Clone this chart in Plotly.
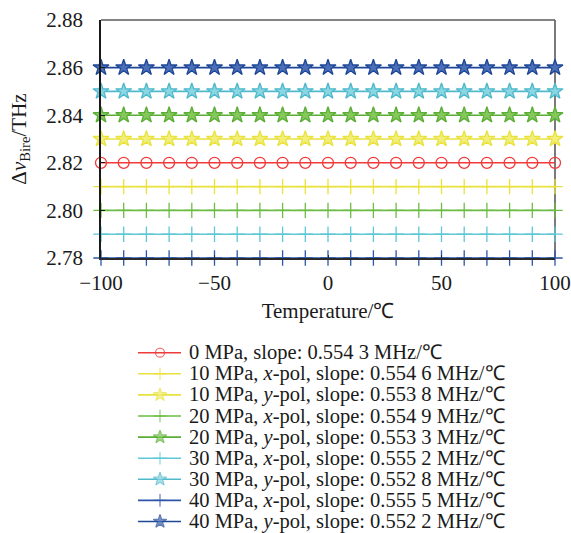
import plotly.graph_objects as go

# Temperature sweep (°C)
temperature = [-100, -90, -80, -70, -60, -50, -40, -30, -20, -10, 0,
               10, 20, 30, 40, 50, 60, 70, 80, 90, 100]

# Birefringence frequency levels (THz) for each stress / polarisation case
series_names = [
    "0 MPa, slope: 0.554 3 MHz/℃",
    "10 MPa, <i>x</i>-pol, slope: 0.554 6 MHz/℃",
    "10 MPa, <i>y</i>-pol, slope: 0.553 8 MHz/℃",
    "20 MPa, <i>x</i>-pol, slope: 0.554 9 MHz/℃",
    "20 MPa, <i>y</i>-pol, slope: 0.553 3 MHz/℃",
    "30 MPa, <i>x</i>-pol, slope: 0.555 2 MHz/℃",
    "30 MPa, <i>y</i>-pol, slope: 0.552 8 MHz/℃",
    "40 MPa, <i>x</i>-pol, slope: 0.555 5 MHz/℃",
    "40 MPa, <i>y</i>-pol, slope: 0.552 2 MHz/℃",
]
series_levels = [2.82, 2.81, 2.83, 2.80, 2.84, 2.79, 2.85, 2.78, 2.86]

# Styling per series: line colour, marker fill, marker symbol, marker size
RED, YEL, GRN, CYN, BLU = "#F03A3A", "#E9E23C", "#6CBD45", "#5EC7D8", "#2C56A8"
styles = [
    dict(color=RED, fill=RED, symbol="circle-open", size=11),
    dict(color=YEL, fill=YEL, symbol="cross-thin-open", size=11),
    dict(color=YEL, fill="#F2EE7A", symbol="star", size=12),
    dict(color=GRN, fill=GRN, symbol="cross-thin-open", size=11),
    dict(color="#5AAE35", fill="#86C85C", symbol="star", size=12),
    dict(color=CYN, fill=CYN, symbol="cross-thin-open", size=11),
    dict(color="#4FB9CB", fill="#8AD6E2", symbol="star", size=12),
    dict(color=BLU, fill=BLU, symbol="cross-thin-open", size=11),
    dict(color="#1F4797", fill="#4C70B8", symbol="star", size=12),
]

FONT = "Liberation Serif"
FS = 21          # axis text size
FS_KEY = 20.5    # key text size
W, H = 571, 533
PX_L, PX_R, PX_T, PX_B = 101, 555, 20, 258

fig = go.Figure()

# Draw from the lowest level up so upper curves sit on top
order = sorted(range(len(series_levels)), key=lambda i: series_levels[i])
for i in order:
    st = styles[i]
    fig.add_trace(go.Scatter(
        x=temperature,
        y=[series_levels[i]] * len(temperature),
        mode="lines+markers",
        line=dict(color=st["color"], width=1.6),
        marker=dict(symbol=st["symbol"], size=st["size"], color=st["fill"],
                    line=dict(color=st["color"], width=1.3)),
        cliponaxis=False,
        showlegend=False,
        xaxis="x", yaxis="y",
    ))

# Legend block below the chart, laid out on a pixel-scaled helper axis
row0, row_step = 352.7, 21.1
for k, name in enumerate(series_names):
    st = styles[k]
    yk = row0 + k * row_step
    fig.add_trace(go.Scatter(
        x=[138, 160, 181], y=[yk, yk, yk],
        mode="lines+markers",
        line=dict(color=st["color"], width=1.6),
        marker=dict(symbol=st["symbol"], size=[0, st["size"] - 2, 0],
                    color=st["fill"], line=dict(color=st["color"], width=1.3)),
        cliponaxis=False, showlegend=False, hoverinfo="skip",
        xaxis="x2", yaxis="y2",
    ))
    fig.add_annotation(
        x=187, y=yk, xref="x2", yref="y2", text=name, showarrow=False,
        xanchor="left", yanchor="middle",
        font=dict(family=FONT, size=FS_KEY, color="#1a1a1a"),
    )

fig.update_layout(
    width=W, height=H,
    margin=dict(l=0, r=0, t=0, b=0),
    paper_bgcolor="white", plot_bgcolor="white",
    font=dict(family=FONT, size=FS, color="#1a1a1a"),
    xaxis=dict(
        domain=[PX_L / W, PX_R / W], anchor="y", automargin=False,
        range=[-100, 100], tickvals=[-100, -50, 0, 50, 100],
        ticktext=["−100", "−50", "0", "50", "100"],
        showgrid=False, zeroline=False,
        showline=True, linecolor="#2a2a2a", linewidth=1.6,
        ticks="inside", ticklen=3, tickcolor="#2a2a2a",
        tickfont=dict(family=FONT, size=FS), ticklabelstandoff=5,
        title=dict(text="Temperature/℃", font=dict(family=FONT, size=FS), standoff=9),
    ),
    yaxis=dict(
        domain=[(H - PX_B) / H, (H - PX_T) / H], anchor="x", automargin=False,
        range=[2.78, 2.88], tickvals=[2.78, 2.80, 2.82, 2.84, 2.86, 2.88],
        tickformat=".2f",
        showgrid=False, zeroline=False,
        showline=True, linecolor="#1a1a1a", linewidth=1.6,
        ticks="inside", ticklen=4, tickcolor="#1a1a1a",
        tickfont=dict(family=FONT, size=FS), ticklabelstandoff=12,
        title=dict(text="Δ<i>v</i><sub>Bire</sub>/THz",
                   font=dict(family=FONT, size=FS), standoff=14),
    ),
    xaxis2=dict(domain=[0, 1], anchor="y2", range=[0, W], visible=False,
                fixedrange=True, automargin=False),
    yaxis2=dict(domain=[0, (H - PX_B) / H], anchor="x2", range=[H, PX_B],
                visible=False, fixedrange=True, automargin=False),
    shapes=[
        # top and right frame edges
        dict(type="line", xref="x domain", yref="y domain", x0=0, x1=1, y0=1, y1=1,
             line=dict(color="#5a5a5a", width=1.6), layer="below"),
        dict(type="line", xref="x domain", yref="y domain", x0=1, x1=1, y0=0, y1=1,
             line=dict(color="#5a5a5a", width=1.6), layer="below"),
    ],
)

fig.write_html("out.html")
